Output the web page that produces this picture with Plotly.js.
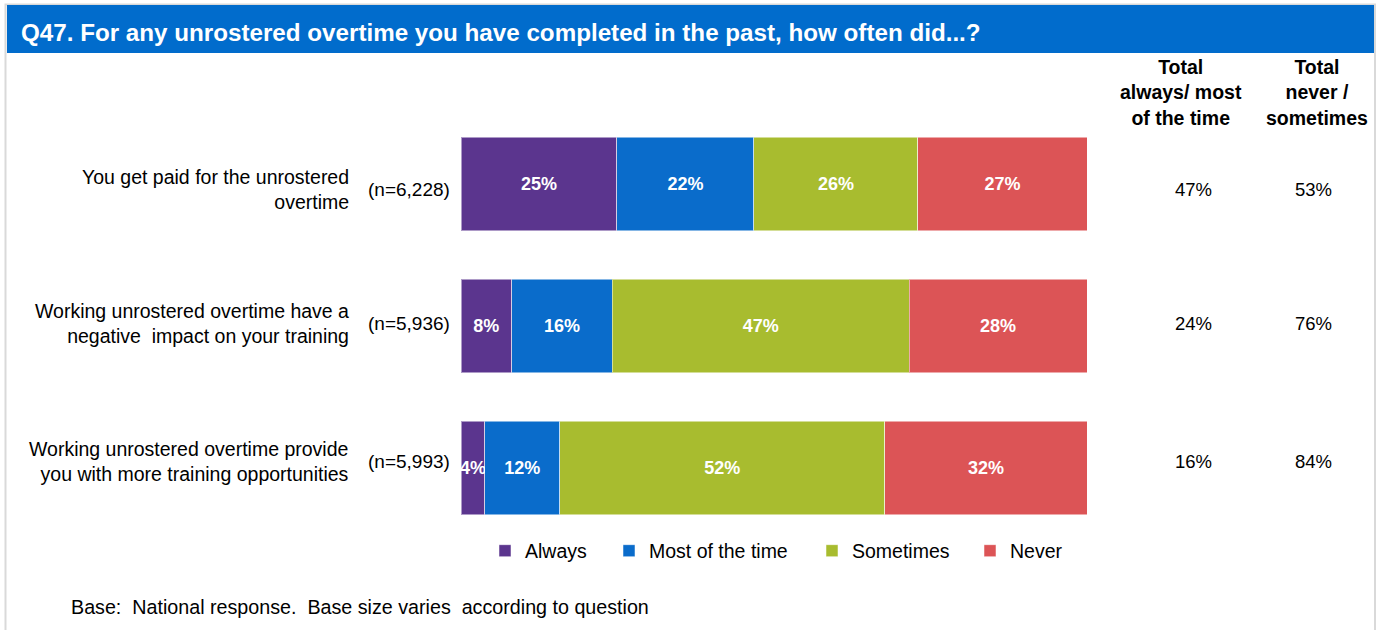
<!DOCTYPE html>
<html>
<head>
<meta charset="utf-8">
<script src="https://cdn.plot.ly/plotly-3.0.1.min.js"></script>
<style>
html,body{margin:0;padding:0;background:#fff;}
#chart{width:1378px;height:630px;}
</style>
</head>
<body>
<div id="chart"></div>
<script>
// ---- data ----
var categories = [
  "You get paid for the unrostered<br>overtime",
  "Working unrostered overtime have a<br>negative\u00a0 impact on your training",
  "Working unrostered overtime provide<br>you with more training opportunities"
];
var baseSizes = ["(n=6,228)", "(n=5,936)", "(n=5,993)"];
var seriesNames = ["Always", "Most of the time", "Sometimes", "Never"];
var always     = [24.9, 8.1, 3.8];
var mostTime   = [21.9, 16.1, 12.0];
var sometimes  = [26.2, 47.4, 51.9];
var never      = [27.0, 28.4, 32.3];
var totalAlwaysMost = [47, 24, 16];
var totalNeverSometimes = [53, 76, 84];
var colHeaders = ["<b>Total<br>always/ most<br>of the time</b>", "<b>Total<br>never /<br>sometimes</b>"];
var titleText = "Q47. For any unrostered overtime you have completed in the past, how often did...?";
var footText = "Base:\u00a0 National response.\u00a0 Base size varies\u00a0 according to question";

// ---- layout geometry ----
var W = 1378, H = 630;
var L = 461, R = 1087, T = 113, B = 539;
function px(x){ return (x - L) / (R - L); }
function py(y){ return (B - y) / (B - T); }
var rowShift = [-5, 3, 7];
var legendTextX = [521, 645, 848, 1006];

var colors = ["#5B358E", "#0A6CCB", "#A8BC2F", "#DC5456"];
var FONT = "Liberation Sans, Arial, sans-serif";
var seriesVals = [always, mostTime, sometimes, never];
var legendIds = ["legend", "legend2", "legend3", "legend4"];

var yIdx = [0, 1, 2];
var traces = seriesVals.map(function(vals, i){
  return {
    type: "bar",
    orientation: "h",
    name: seriesNames[i],
    legend: legendIds[i],
    x: vals,
    y: yIdx,
    width: 0.66,
    marker: {color: colors[i], line: {color: "rgba(255,255,255,0.5)", width: 1}},
    text: vals.map(function(v){ return Math.round(v) + "%"; }),
    textposition: "inside",
    insidetextanchor: "middle",
    textangle: 0,
    constraintext: "none",
    cliponaxis: false,
    textfont: {family: FONT, size: 18, color: "#ffffff", weight: "bold"},
    hoverinfo: "name+x"
  };
});

var annotations = [];
annotations.push({
  xref: "paper", yref: "paper", x: px(19), y: py(33),
  xanchor: "left", yanchor: "middle", showarrow: false,
  text: "<b>" + titleText + "</b>",
  font: {family: FONT, size: 24.2, color: "#ffffff"}
});
annotations.push({
  xref: "paper", yref: "paper", x: px(1181), y: py(92),
  xanchor: "center", yanchor: "middle", showarrow: false, align: "center",
  text: colHeaders[0], font: {family: FONT, size: 19.5, color: "#000000"}
});
annotations.push({
  xref: "paper", yref: "paper", x: px(1317), y: py(92),
  xanchor: "center", yanchor: "middle", showarrow: false, align: "center",
  text: colHeaders[1], font: {family: FONT, size: 19.5, color: "#000000"}
});
for (var i = 0; i < categories.length; i++) {
  annotations.push({
    xref: "paper", yref: "y", x: px(351), y: yIdx[i], yshift: rowShift[i],
    xanchor: "right", yanchor: "middle", showarrow: false, align: "right",
    text: categories[i], font: {family: FONT, size: 19.5, color: "#000000"}
  });
  annotations.push({
    xref: "paper", yref: "y", x: px(452), y: yIdx[i], yshift: rowShift[i],
    xanchor: "right", yanchor: "middle", showarrow: false,
    text: baseSizes[i], font: {family: FONT, size: 19, color: "#000000"}
  });
  annotations.push({
    xref: "paper", yref: "y", x: px(1193), y: yIdx[i], yshift: rowShift[i],
    xanchor: "center", yanchor: "middle", showarrow: false,
    text: totalAlwaysMost[i] + "%", font: {family: FONT, size: 18.5, color: "#000000"}
  });
  annotations.push({
    xref: "paper", yref: "y", x: px(1313), y: yIdx[i], yshift: rowShift[i],
    xanchor: "center", yanchor: "middle", showarrow: false,
    text: totalNeverSometimes[i] + "%", font: {family: FONT, size: 18.5, color: "#000000"}
  });
}
annotations.push({
  xref: "paper", yref: "paper", x: px(69), y: py(607),
  xanchor: "left", yanchor: "middle", showarrow: false,
  text: footText, font: {family: FONT, size: 19.7, color: "#000000"}
});

var shapes = [
  {type: "rect", xref: "paper", yref: "paper", x0: px(5.5), x1: px(1375), y0: py(4.5), y1: py(660),
   line: {color: "#D9D9D9", width: 2}, fillcolor: "rgba(0,0,0,0)", layer: "below"},
  {type: "rect", xref: "paper", yref: "paper", x0: px(7), x1: px(1374), y0: py(5), y1: py(53),
   line: {width: 0}, fillcolor: "#016CCC", layer: "below"}
];

var layout = {
  width: W, height: H,
  margin: {l: L, r: W - R, t: T, b: H - B, pad: 0},
  paper_bgcolor: "#ffffff", plot_bgcolor: "#ffffff",
  barmode: "stack",
  xaxis: {range: [0, 100], visible: false, fixedrange: true},
  yaxis: {range: [2.5, -0.5], visible: false, fixedrange: true},
  showlegend: true,
  annotations: annotations,
  shapes: shapes,
  font: {family: FONT}
};
legendIds.forEach(function(id, i){
  layout[id] = {
    orientation: "h", x: px(legendTextX[i] + 4 - 40), y: py(551),
    xanchor: "left", yanchor: "middle",
    font: {family: FONT, size: 19.5, color: "#000000"},
    itemwidth: 30, bgcolor: "rgba(0,0,0,0)", borderwidth: 0
  };
});

Plotly.newPlot("chart", traces, layout, {displayModeBar: false, staticPlot: true});
</script>
</body>
</html>
